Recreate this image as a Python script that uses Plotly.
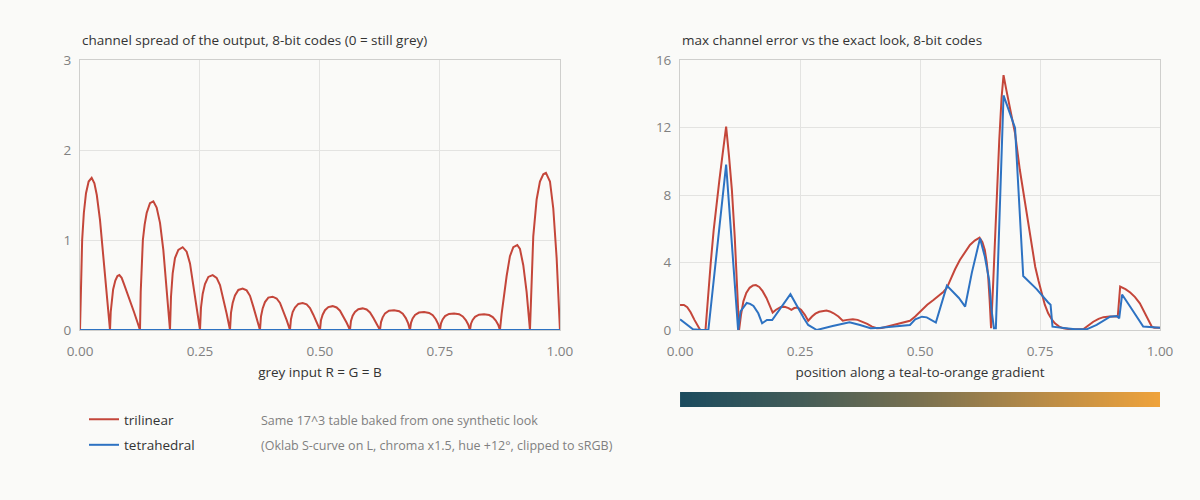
import plotly.graph_objects as go

# ---------------- data ----------------
# left panel: channel spread of output along the grey axis (8-bit codes)
grey_x = [
    0.0, 0.002, 0.0045, 0.008, 0.0125, 0.018, 0.0243, 0.03, 0.035, 0.0417, 0.0486, 0.0556,
    0.0625, 0.064, 0.066, 0.069, 0.0736, 0.078, 0.082, 0.0868, 0.0917, 0.0965, 0.1, 0.1063, 0.1125, 0.1188,
    0.125, 0.1265, 0.1285, 0.131, 0.1347, 0.1389, 0.1458, 0.1528, 0.1597, 0.1667, 0.1736, 0.1806,
    0.1875, 0.1896, 0.1931, 0.1979, 0.2049, 0.2139, 0.2222, 0.2292, 0.2361, 0.2431,
    0.25, 0.2521, 0.2556, 0.2604, 0.2674, 0.2764, 0.2847, 0.2917, 0.2986, 0.3056,
    0.3125, 0.3146, 0.3181, 0.3229, 0.3299, 0.3389, 0.3472, 0.3542, 0.3611, 0.3681,
    0.375, 0.3771, 0.3806, 0.3854, 0.3924, 0.4014, 0.4097, 0.4167, 0.4236, 0.4306,
    0.4375, 0.4396, 0.4431, 0.4479, 0.4549, 0.4639, 0.4722, 0.4792, 0.4861, 0.4931,
    0.5, 0.5021, 0.5056, 0.5104, 0.5174, 0.5264, 0.5347, 0.5417, 0.5486, 0.5556,
    0.5625, 0.5646, 0.5681, 0.5729, 0.5799, 0.5889, 0.5972, 0.6042, 0.6111, 0.6181,
    0.625, 0.6272, 0.6306, 0.6356, 0.6438, 0.6544, 0.665, 0.6725, 0.6788, 0.6838,
    0.6875, 0.6897, 0.6931, 0.6981, 0.7063, 0.7169, 0.7275, 0.735, 0.7413, 0.7463,
    0.75, 0.7522, 0.7556, 0.7606, 0.7688, 0.7794, 0.79, 0.7975, 0.8038, 0.8088,
    0.8125, 0.8147, 0.8181, 0.8231, 0.8313, 0.8419, 0.8525, 0.86, 0.8663, 0.8713,
    0.875, 0.8785, 0.8819, 0.8889, 0.8958, 0.9028, 0.9111, 0.9167, 0.9236, 0.9306,
    0.9375, 0.9396, 0.941, 0.9444, 0.9514, 0.9583, 0.9653, 0.9708, 0.9792, 0.9861, 0.9931, 0.9965,
    1.0,
]
grey_trilinear = [
    0.0, 0.55, 1.0, 1.3, 1.52, 1.65, 1.69, 1.63, 1.5, 1.22, 0.8, 0.36,
    0.0, 0.2, 0.33, 0.45, 0.55, 0.6, 0.61, 0.58, 0.51, 0.44, 0.40, 0.30, 0.20, 0.10,
    0.0, 0.42, 0.78, 1.0, 1.17, 1.3, 1.41, 1.43, 1.36, 1.19, 0.89, 0.46,
    0.0, 0.37, 0.63, 0.8, 0.89, 0.92, 0.87, 0.74, 0.51, 0.25,
    0.0, 0.25, 0.40, 0.51, 0.59, 0.61, 0.58, 0.50, 0.35, 0.18,
    0.0, 0.19, 0.30, 0.385, 0.445, 0.46, 0.44, 0.38, 0.26, 0.14,
    0.0, 0.15, 0.24, 0.31, 0.36, 0.37, 0.35, 0.30, 0.21, 0.11,
    0.0, 0.12, 0.2, 0.25, 0.29, 0.30, 0.285, 0.245, 0.17, 0.09,
    0.0, 0.11, 0.17, 0.22, 0.255, 0.265, 0.25, 0.215, 0.15, 0.08,
    0.0, 0.1, 0.16, 0.2, 0.23, 0.24, 0.228, 0.195, 0.135, 0.07,
    0.0, 0.088, 0.141, 0.185, 0.214, 0.22, 0.209, 0.18, 0.132, 0.073,
    0.0, 0.08, 0.128, 0.168, 0.194, 0.2, 0.19, 0.164, 0.12, 0.066,
    0.0, 0.074, 0.118, 0.155, 0.178, 0.184, 0.175, 0.151, 0.11, 0.061,
    0.0, 0.07, 0.112, 0.147, 0.17, 0.175, 0.166, 0.143, 0.105, 0.058,
    0.0, 0.18, 0.32, 0.6, 0.82, 0.92, 0.944, 0.9, 0.72, 0.42,
    0.0, 0.4, 0.66, 1.04, 1.45, 1.65, 1.73, 1.746, 1.65, 1.35, 0.8, 0.42,
    0.0,
]
grey_tetra_x = [0.0, 1.0]
grey_tetrahedral = [0.0, 0.0]

# right panel: max channel error along a teal-to-orange gradient
grad_tri_x = [
    0.0, 0.008, 0.015, 0.022, 0.03, 0.037, 0.042, 0.053, 0.058, 0.064, 0.07, 0.076, 0.082, 0.089, 0.096,
    0.102, 0.108, 0.114, 0.119, 0.123, 0.127, 0.132, 0.138, 0.145, 0.152, 0.158, 0.165, 0.172, 0.18,
    0.187, 0.193, 0.2, 0.21, 0.218, 0.226, 0.232, 0.238, 0.245, 0.252, 0.26, 0.267, 0.275, 0.282, 0.29,
    0.298, 0.305, 0.312, 0.32, 0.33, 0.339, 0.348, 0.36, 0.37, 0.38, 0.39, 0.4, 0.41, 0.42, 0.431,
    0.443, 0.455, 0.467, 0.479, 0.49, 0.503, 0.515, 0.528, 0.54, 0.549, 0.556, 0.563, 0.573, 0.583,
    0.594, 0.604, 0.614, 0.624, 0.63, 0.635, 0.639, 0.642, 0.645, 0.648, 0.652, 0.656, 0.66, 0.665,
    0.67, 0.674, 0.68, 0.688, 0.698, 0.708, 0.719, 0.729, 0.74, 0.747, 0.753, 0.76, 0.767, 0.774,
    0.781, 0.79, 0.799, 0.813, 0.84, 0.85, 0.861, 0.872, 0.882, 0.895, 0.912, 0.917, 0.928, 0.938,
    0.948, 0.958, 0.965, 0.972, 0.978, 0.983, 0.988, 1.0,
]
grad_trilinear = [
    1.48, 1.48, 1.35, 1.05, 0.6, 0.2, 0.0, 0.0, 2.0, 4.0, 5.9, 7.5, 8.9, 10.5, 12.05,
    10.3, 8.3, 5.5, 2.8, 0.0, 0.9, 1.7, 2.2, 2.5, 2.64, 2.66, 2.55, 2.3, 1.9,
    1.45, 1.03, 1.2, 1.37, 1.38, 1.3, 1.19, 1.3, 1.33, 1.2, 0.9, 0.55, 0.8, 0.97, 1.08,
    1.14, 1.15, 1.1, 0.99, 0.8, 0.55, 0.6, 0.63, 0.6, 0.5, 0.36, 0.2, 0.1, 0.12, 0.2,
    0.3, 0.4, 0.48, 0.55, 0.8, 1.19, 1.5, 1.78, 2.05, 2.27, 2.5, 2.96, 3.6, 4.15,
    4.65, 5.04, 5.3, 5.47, 5.2, 4.74, 4.0, 3.16, 1.8, 0.1, 2.5, 5.2, 8.3, 11.2,
    13.8, 15.1, 14.2, 13.0, 11.65, 9.48, 7.5, 5.53, 3.75, 2.9, 2.17, 1.5, 0.99, 0.65,
    0.4, 0.2, 0.1, 0.04, 0.04, 0.25, 0.49, 0.66, 0.76, 0.8, 0.8, 2.57, 2.42, 2.22,
    1.95, 1.58, 1.2, 0.79, 0.45, 0.2, 0.14, 0.14,
]
grad_tet_x = [
    0.0, 0.013, 0.027, 0.045, 0.059, 0.096, 0.121, 0.126, 0.139, 0.146, 0.153, 0.163, 0.171, 0.181,
    0.192, 0.23, 0.246, 0.258, 0.267, 0.285, 0.318, 0.353, 0.375, 0.397, 0.418, 0.454, 0.479, 0.49,
    0.504, 0.514, 0.533, 0.556, 0.569, 0.581, 0.594, 0.608, 0.625, 0.635, 0.644, 0.649, 0.654, 0.658,
    0.674, 0.688, 0.698, 0.715, 0.743, 0.767, 0.772, 0.776, 0.806, 0.823, 0.847, 0.868, 0.896, 0.91,
    0.915, 0.921, 0.938, 0.951, 0.965, 1.0,
]
grad_tetrahedral = [
    0.63, 0.35, 0.04, 0.0, 0.0, 9.8, 0.0, 1.1, 1.6, 1.55, 1.42, 0.99, 0.4, 0.59,
    0.59, 2.12, 1.29, 0.7, 0.3, 0.0, 0.24, 0.46, 0.3, 0.1, 0.14, 0.24, 0.3, 0.63,
    0.79, 0.75, 0.44, 2.63, 2.27, 1.9, 1.39, 3.4, 5.43, 4.35, 2.96, 1.19, 0.1, 0.1,
    13.9, 12.8, 11.98, 3.2, 2.42, 1.63, 1.5, 0.2, 0.1, 0.04, 0.04, 0.3, 0.79, 0.83,
    0.69, 2.1, 1.38, 0.79, 0.2, 0.14,
]

# gradient strip under the right panel
strip_positions = [0.0, 1.0]
strip_values = [0.0, 1.0]
strip_colors = [[0.0, "#1b4b5e"], [0.25, "#445c58"], [0.5, "#7a7150"], [0.75, "#b88b47"], [1.0, "#f0a33b"]]

x_ticks = [0.0, 0.25, 0.5, 0.75, 1.0]
left_y_ticks = [0, 1, 2, 3]
right_y_ticks = [0, 4, 8, 12, 16]

# ---------------- style ----------------
RED = "#c4463a"
BLUE = "#2d72c2"
BG = "#fafaf8"
GRID = "#e3e3e1"
FRAME = "#cfcfcd"
FONT = "Open Sans"
TXT = 13.5

fig = go.Figure()

fig.add_trace(go.Scatter(x=grey_x, y=grey_trilinear, mode="lines", name="trilinear",
                         line=dict(color=RED, width=2), legendgroup="a",
                         xaxis="x", yaxis="y"))
fig.add_trace(go.Scatter(x=grey_tetra_x, y=grey_tetrahedral, mode="lines", name="tetrahedral",
                         line=dict(color=BLUE, width=2), legendgroup="b",
                         xaxis="x", yaxis="y"))
fig.add_trace(go.Scatter(x=grad_tri_x, y=grad_trilinear, mode="lines", name="trilinear",
                         line=dict(color=RED, width=2), legendgroup="a", showlegend=False,
                         xaxis="x2", yaxis="y2"))
fig.add_trace(go.Scatter(x=grad_tet_x, y=grad_tetrahedral, mode="lines", name="tetrahedral",
                         line=dict(color=BLUE, width=2), legendgroup="b", showlegend=False,
                         xaxis="x2", yaxis="y2"))
fig.add_trace(go.Heatmap(x=strip_positions, y=[0], z=[strip_values], colorscale=strip_colors,
                         zsmooth="best", showscale=False, hoverinfo="skip",
                         xaxis="x3", yaxis="y3"))

axis_common = dict(showgrid=True, gridcolor=GRID, gridwidth=1, showline=True, linecolor=FRAME,
                   linewidth=1, mirror=True, zeroline=False, ticks="",
                   tickfont=dict(family=FONT, size=TXT, color="#808080"))

MAIN_Y = [0.3077, 1.0]
fig.update_layout(
    width=1200, height=500,
    paper_bgcolor=BG, plot_bgcolor=BG,
    font=dict(family=FONT, size=TXT, color="#333333"),
    margin=dict(l=80, r=40, t=60, b=50),
    xaxis=dict(domain=[0.0, 0.4444], range=[0, 1], tickvals=x_ticks, tickformat=".2f",
               anchor="y", ticklabelstandoff=9,
               title=dict(text="grey input R = G = B", standoff=8,
                          font=dict(family=FONT, size=TXT, color="#333333")),
               **axis_common),
    yaxis=dict(domain=MAIN_Y, range=[0, 3], tickvals=left_y_ticks, anchor="x",
               ticklabelstandoff=5, **axis_common),
    xaxis2=dict(domain=[0.5556, 1.0], range=[0, 1], tickvals=x_ticks, tickformat=".2f",
                anchor="y2", ticklabelstandoff=9,
                title=dict(text="position along a teal-to-orange gradient", standoff=8,
                           font=dict(family=FONT, size=TXT, color="#333333")),
                **axis_common),
    yaxis2=dict(domain=MAIN_Y, range=[0, 16], tickvals=right_y_ticks, anchor="x2",
                ticklabelstandoff=5, **axis_common),
    xaxis3=dict(domain=[0.5556, 1.0], range=[0, 1], visible=False, anchor="y3"),
    yaxis3=dict(domain=[0.1103, 0.1487], range=[-0.5, 0.5], visible=False, anchor="x3"),
    showlegend=True,
    legend=dict(x=0.0037, xanchor="left", y=0.118, yanchor="top", orientation="v",
                traceorder="grouped", tracegroupgap=5, bgcolor="rgba(0,0,0,0)",
                font=dict(family=FONT, size=TXT, color="#333333")),
    annotations=[
        dict(text="channel spread of the output, 8-bit codes (0 = still grey)", x=0.0, y=1.051,
             xref="paper", yref="paper", xanchor="left", yanchor="middle", showarrow=False,
             font=dict(family=FONT, size=TXT, color="#333333")),
        dict(text="max channel error vs the exact look, 8-bit codes", x=0.5556, y=1.051,
             xref="paper", yref="paper", xanchor="left", yanchor="middle", showarrow=False,
             font=dict(family=FONT, size=TXT, color="#333333")),
        dict(text="Same 17^3 table baked from one synthetic look", x=0.1657, y=0.0769,
             xref="paper", yref="paper", xanchor="left", yanchor="middle", showarrow=False,
             font=dict(family=FONT, size=12.5, color="#808080")),
        dict(text="(Oklab S-curve on L, chroma x1.5, hue +12°, clipped to sRGB)", x=0.1657, y=0.0128,
             xref="paper", yref="paper", xanchor="left", yanchor="middle", showarrow=False,
             font=dict(family=FONT, size=12.5, color="#808080")),
    ],
)

fig.write_html("out.html", config={"displayModeBar": False},
               post_script="document.body.style.margin='0';document.body.style.background='%s';" % BG)
